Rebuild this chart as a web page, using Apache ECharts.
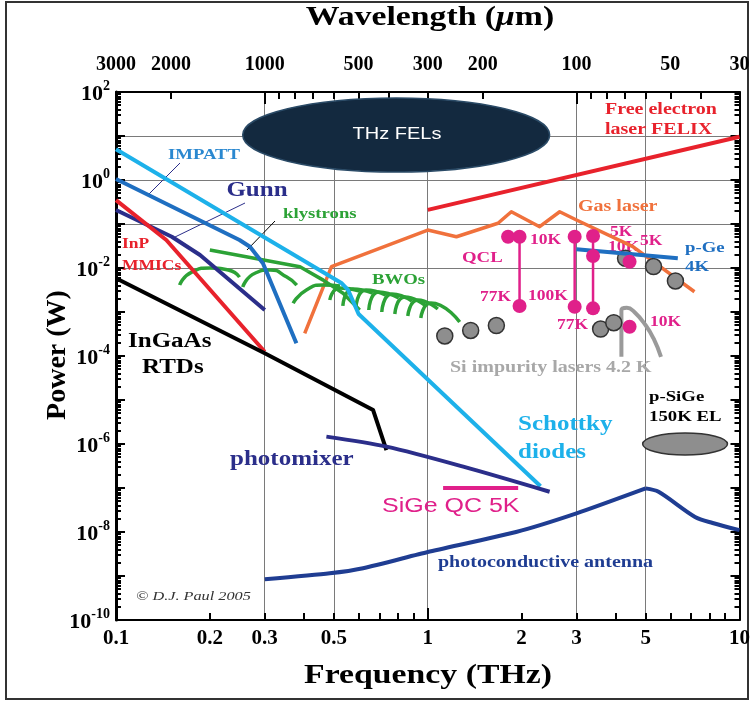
<!DOCTYPE html>
<html>
<head>
<meta charset="utf-8">
<script src="https://cdn.jsdelivr.net/npm/echarts@6/dist/echarts.min.js"></script>
<style>
  html, body { margin: 0; padding: 0; background: #fff; }
  #chart { width: 753px; height: 702px; }
</style>
</head>
<body>
<div id="chart"></div>
<script>
const SERIF = '"Liberation Serif","DejaVu Serif",serif';
const SANS = '"Liberation Sans","DejaVu Sans",sans-serif';

// ---- axis ticks and labels ----
const freqLabels = [0.1, 0.2, 0.3, 0.5, 1, 2, 3, 5, 10];                 // THz
const freqTicks = [0.2, 0.3, 0.4, 0.5, 0.6, 0.7, 0.8, 0.9, 2, 3, 4, 5, 6, 7, 8, 9];
const freqMajorTicks = [1];
const wavelengthLabels = [3000, 2000, 1000, 500, 300, 200, 100, 50, 30];  // µm
const wavelengthTicks = [2000, 900, 800, 700, 600, 500, 400, 300, 200, 90, 80, 70, 60, 50, 40, 30];
const wavelengthMajorTicks = [1000, 100];
const powerExponents = [-10, -9, -8, -7, -6, -5, -4, -3, -2, -1, 0, 1, 2];  // W, as powers of ten
const gridFreqs = [0.3, 0.5, 1, 3, 5];

// ---- sources, [frequency THz, power W] ----
const schottky = [[0.1, 5], [0.53, 4.5e-3], [0.555, 3.2e-3], [0.6, 9e-4], [2.3, 1.1e-7]];
const impatt = [[0.1, 1.05], [0.249, 0.0433], [0.269, 0.0305], [0.296, 0.0128], [0.379, 1.94e-4]];
const gunn = [[0.1, 0.208], [0.151, 0.0514], [0.186, 0.0197], [0.30, 1.11e-3]];
const inpMmic = [[0.1, 0.35], [0.145, 0.0433], [0.3, 1.25e-4]];
const rtd = [[0.1, 5.83e-3], [0.3, 1.15e-4], [0.668, 5.9e-6], [0.737, 7.3e-7]];
const photomixer = [[0.473, 1.47e-6], [0.737, 8.7e-7], [1.30, 3.05e-7], [2.46, 8.2e-8]];
const sigeQC = [[1.12, 1e-7], [1.95, 1e-7]];
const antenna = [[0.3, 8.4e-10], [0.485, 1.15e-9], [0.62, 1.5e-9], [1.0, 3.5e-9], [1.92, 1.0e-8],
                 [3.0, 2.65e-8], [5.0, 9.8e-8], [5.5, 8.2e-8], [7.2, 2.2e-8], [8.2, 1.6e-8], [10, 1.1e-8]];
const antennaPeakIndex = 6;
const felix = [[1, 0.21], [10, 9.6]];
const gasLaser = [[0.403, 3.28e-4], [0.491, 0.0107], [1.0, 0.073], [1.236, 0.0514], [1.68, 0.104],
                  [1.854, 0.19], [2.285, 0.0869], [2.65, 0.19], [3.0, 0.123], [4.55, 0.0305], [7.17, 2.89e-3]];
const pGe = [[3.0, 0.0266], [6.34, 0.0166]];
const siImpurityArc = [[4.18, 9.6e-5], [4.18, 1.1e-3], [4.35, 1.25e-3], [4.6, 1.0e-3], [5.0, 5.0e-4], [5.3, 2.5e-4], [5.6, 9.6e-5]];

const klystronLine = [[0.2, 0.0257], [0.389, 0.0107], [0.462, 5.3e-3], [0.535, 2.66e-3], [0.605, 1.11e-3]];
const klystronArcs = [
  [[0.160, 4.1e-3], [0.175, 8.1e-3], [0.2, 0.01], [0.229, 9.0e-3], [0.249, 6.2e-3]],
  [[0.255, 3.7e-3], [0.279, 7.6e-3], [0.312, 9.0e-3], [0.352, 6.3e-3], [0.38, 4.1e-3]],
  [[0.37, 1.58e-3], [0.408, 3.16e-3], [0.462, 4.1e-3], [0.523, 3.9e-3]]
];
const bwoArcs = [
  [[0.485, 1.87e-3], [0.522, 3.51e-3], [0.605, 3.0e-3]],
  [[0.534, 1.37e-3], [0.575, 3.33e-3], [0.666, 2.70e-3]],
  [[0.588, 1.23e-3], [0.633, 3.16e-3], [0.734, 2.43e-3]],
  [[0.647, 1.11e-3], [0.696, 2.85e-3], [0.807, 2.08e-3]],
  [[0.712, 1.0e-3], [0.767, 2.56e-3], [0.889, 1.78e-3]],
  [[0.784, 9.0e-4], [0.844, 2.19e-3], [0.978, 1.44e-3]],
  [[0.863, 8.1e-4], [0.929, 1.87e-3], [1.077, 1.17e-3]],
  [[0.950, 7.3e-4], [1.022, 1.60e-3], [1.266, 5.9e-4]]
];

// quantum cascade lasers: temperature ranges and single points
const qclRanges = [
  [[1.97, 0.0514], [1.97, 1.37e-3]],
  [[2.96, 0.0514], [2.96, 1.32e-3]],
  [[3.39, 0.0533], [3.39, 1.21e-3]]
];
const qclDots = [[1.81, 0.0514], [1.97, 0.0514], [1.97, 1.37e-3], [2.96, 0.0514], [2.96, 1.32e-3],
                 [3.39, 0.0533], [3.39, 0.0187], [3.39, 1.21e-3], [4.44, 0.0139], [4.44, 4.63e-4]];
const grayDots = [[1.134, 2.85e-4], [1.373, 3.8e-4], [1.66, 4.93e-4], [3.585, 4.1e-4], [3.95, 5.7e-4],
                  [4.31, 0.0166], [5.3, 0.0108], [6.23, 5.07e-3]];

// regions: [fLow, fHigh, pLow, pHigh]
const felRegion = [0.255, 2.46, 1.52, 73];
const psigeRegion = [4.89, 9.15, 5.6e-7, 1.78e-6];

// ---- helpers ----
const pow10 = e => +('1e' + e);
const majorPowers = powerExponents.map(pow10);
const labelPowers = powerExponents.filter(e => e % 2 === 0).map(pow10);
const innerPowers = powerExponents.slice(1, -1).map(pow10);
const minorPowerTicks = [];
powerExponents.slice(0, -1).forEach(e => {
  for (let k = 2; k <= 9; k++) minorPowerTicks.push(+(k + 'e' + e));
});

function line(data, color, width, extra) {
  return Object.assign({
    type: 'line', data: data, symbol: 'none', showSymbol: false, silent: true,
    lineStyle: { color: color, width: width, cap: 'butt', join: 'round' },
    itemStyle: { color: color }, z: 3
  }, extra || {});
}

function ellipseSeries(region, fill, stroke) {
  return {
    type: 'custom', silent: true, z: 8,
    data: [region],
    encode: { x: [0, 1], y: [2, 3] },
    renderItem: function (params, api) {
      const a = api.coord([api.value(0), api.value(2)]);
      const b = api.coord([api.value(1), api.value(3)]);
      return {
        type: 'ellipse',
        shape: { cx: (a[0] + b[0]) / 2, cy: (a[1] + b[1]) / 2, rx: Math.abs(b[0] - a[0]) / 2, ry: Math.abs(b[1] - a[1]) / 2 },
        style: { fill: fill, stroke: stroke, lineWidth: 1.5 }
      };
    }
  };
}

// text printed slightly widened, as in the original figure
const WIDEN = 1.25;
function txt(x, y, text, size, color, opts) {
  opts = opts || {};
  const align = opts.align || 'left';
  return {
    type: 'text', x: x, y: y, z: opts.z || 1, silent: true, rotation: opts.rotation || 0,
    scaleX: opts.rotation ? 1 : WIDEN,
    style: {
      text: text, fill: color,
      font: (opts.italic ? 'italic ' : '') + (opts.weight || 'bold') + ' ' + size + 'px ' + (opts.family || SERIF),
      textAlign: align, align: align, textVerticalAlign: 'middle', verticalAlign: 'middle'
    }
  };
}
function seg(x1, y1, x2, y2, color) {
  return { type: 'line', z: 1, silent: true, shape: { x1: x1, y1: y1, x2: x2, y2: y2 }, style: { stroke: color, lineWidth: 1 } };
}

const C = {
  sky: '#1db1ea', blue: '#1f6fc1', navy: '#2b2e8a', red: '#e8222c', green: '#2ca236',
  orange: '#f0713c', pink: '#e0208a', gray: '#8e8e8e', dark: '#1f3d92'
};

const series = [
  // plot grid
  {
    type: 'line', data: [], silent: true, z: 0,
    markLine: {
      silent: true, symbol: 'none', animation: false, label: { show: false }, z: 0,
      lineStyle: { color: '#7a7a7a', width: 1, type: 'solid' },
      data: gridFreqs.map(f => ({ xAxis: f })).concat(innerPowers.map(p => ({ yAxis: p })))
    }
  },
  ellipseSeries(felRegion, '#13293f', '#2a4a66'),
  ellipseSeries(psigeRegion, '#8e8e8e', '#333'),
  line(felix, C.red, 4),
  line(gasLaser, C.orange, 3.5),
  line(klystronLine, C.green, 3.5),
  ...klystronArcs.map(a => line(a, C.green, 3.5, { smooth: 0.6 })),
  ...bwoArcs.map(a => line(a, C.green, 3.5, { smooth: 0.6 })),
  line(impatt, C.blue, 4),
  line(gunn, C.navy, 4),
  line(inpMmic, C.red, 4),
  line(rtd, '#000', 4),
  line(schottky, C.sky, 4),
  line(photomixer, C.navy, 4, { smooth: 0.3 }),
  line(sigeQC, C.pink, 4),
  // photoconductive antenna: rising and falling branches meet at a sharp peak
  line(antenna.slice(0, antennaPeakIndex + 1), C.dark, 4, { smooth: 0.2 }),
  line(antenna.slice(antennaPeakIndex), C.dark, 4, { smooth: 0.3 }),
  line(siImpurityArc, '#9a9a9a', 4, { smooth: 0.5 }),
  {
    type: 'scatter', data: grayDots, symbol: 'circle', symbolSize: 16, silent: true, z: 6,
    itemStyle: { color: C.gray, borderColor: '#333', borderWidth: 1.5, opacity: 1 }
  },
  line(pGe, C.blue, 4, { z: 7 }),
  ...qclRanges.map(r => line(r, C.pink, 2.5, { z: 7 })),
  {
    type: 'scatter', data: qclDots, symbol: 'circle', symbolSize: 14, silent: true, z: 8,
    itemStyle: { color: C.pink, opacity: 1 }
  }
];

const graphics = [
  { type: 'rect', z: -1, silent: true, shape: { x: 6, y: 2, width: 742, height: 697 }, style: { fill: 'none', stroke: '#333', lineWidth: 2 } },
  // axis titles
  {
    type: 'text', x: 430, y: 18, silent: true, z: 1, scaleX: WIDEN,
    style: {
      text: '{a|Wavelength (}{m|μ}{a|m)}', align: 'center', verticalAlign: 'middle',
      textAlign: 'center', textVerticalAlign: 'middle',
      rich: {
        a: { font: 'bold 27px ' + SERIF, fill: '#000' },
        m: { font: 'italic bold 27px ' + SERIF, fill: '#000' }
      }
    }
  },
  txt(428, 676, 'Frequency (THz)', 27, '#000', { align: 'center' }),
  txt(58, 355, 'Power (W)', 28, '#000', { align: 'center', rotation: Math.PI / 2 }),
  // FEL region caption
  txt(397, 135, 'THz FELs', 16, '#fff', { align: 'center', weight: 'normal', family: SANS, z: 20 }),
  // source labels
  txt(204, 155, 'IMPATT', 15, '#2a88d0', { align: 'center' }),
  seg(180, 163, 148, 195, C.navy),
  txt(257, 191, 'Gunn', 20, C.navy, { align: 'center' }),
  seg(245, 203, 175, 237, C.navy),
  txt(283, 214, 'klystrons', 15, C.green),
  seg(275, 221, 247, 250, '#000'),
  txt(122, 244, 'InP', 14, C.red),
  txt(122, 266, 'MMICs', 14, C.red),
  txt(128, 342, 'InGaAs', 20, '#000'),
  txt(142, 368, 'RTDs', 20, '#000'),
  txt(230, 460, 'photomixer', 20, C.navy),
  txt(518, 425, 'Schottky', 20, C.sky),
  txt(518, 453, 'diodes', 20, C.sky),
  txt(382, 506, 'SiGe QC 5K', 20, C.pink, { weight: 'normal', family: SANS }),
  txt(438, 563, 'photoconductive antenna', 16, C.dark),
  txt(136, 597, '© D.J. Paul 2005', 13, '#333', { italic: true, weight: 'normal' }),
  txt(605, 110, 'Free electron', 16, C.red),
  txt(605, 130, 'laser FELIX', 16, C.red),
  txt(578, 207, 'Gas laser', 16, C.orange),
  txt(462, 258, 'QCL', 15, C.pink),
  txt(530, 240, '10K', 14, C.pink),
  txt(480, 297, '77K', 14, C.pink),
  txt(528, 296, '100K', 14, C.pink),
  txt(557, 325, '77K', 14, C.pink),
  txt(610, 232, '5K', 14, C.pink),
  txt(608, 247, '10K', 14, C.pink),
  txt(640, 241, '5K', 14, C.pink),
  txt(650, 322, '10K', 14, C.pink),
  txt(685, 248, 'p-Ge', 15, C.blue),
  txt(685, 267, '4K', 15, C.blue),
  txt(372, 280, 'BWOs', 15, C.green),
  txt(450, 368, 'Si impurity lasers 4.2 K', 16, '#a8a8a8'),
  txt(649, 397, 'p-SiGe', 15, '#000'),
  txt(649, 417, '150K EL', 15, '#000')
];

const axisLineStyle = { show: true, onZero: false, lineStyle: { color: '#000', width: 2 } };
const noLine = { show: false };
const yBase = { type: 'log', logBase: 10, min: 1e-10, max: 100, splitLine: { show: false } };
const tickStyle = { color: '#000', width: 2 };

function tickAxis(base, position, values, length, withLine) {
  return Object.assign({}, base, {
    position: position,
    axisLine: withLine ? axisLineStyle : noLine,
    axisTick: { show: true, inside: true, length: length, customValues: values, lineStyle: tickStyle },
    axisLabel: { show: false }
  });
}

const xBase = { type: 'log', logBase: 10, min: 0.1, max: 10, splitLine: { show: false } };

const option = {
  animation: false,
  backgroundColor: '#fff',
  grid: { left: 116, right: 13, top: 92, bottom: 82, containLabel: false },
  xAxis: [
    Object.assign({}, xBase, {
      position: 'bottom',
      axisLine: axisLineStyle,
      axisTick: { show: true, inside: true, length: 7, customValues: freqTicks, lineStyle: tickStyle },
      axisLabel: {
        show: true, customValues: freqLabels, margin: 8,
        formatter: v => String(v),
        color: '#000', fontFamily: SERIF, fontWeight: 'bold', fontSize: 21
      }
    }),
    Object.assign({}, xBase, {
      position: 'top',
      axisLine: axisLineStyle,
      axisTick: { show: true, inside: true, length: 7, customValues: wavelengthTicks.map(w => 300 / w), lineStyle: tickStyle },
      axisLabel: {
        show: true, customValues: wavelengthLabels.map(w => 300 / w), margin: 17,
        formatter: v => String(Math.round(300 / v)),
        color: '#000', fontFamily: SERIF, fontWeight: 'bold', fontSize: 20
      }
    }),
    tickAxis(xBase, 'bottom', freqMajorTicks, 12, false),
    tickAxis(xBase, 'top', wavelengthMajorTicks.map(w => 300 / w), 12, false)
  ],
  yAxis: [
    Object.assign({}, yBase, {
      position: 'left',
      axisLine: { show: true, onZero: false, lineStyle: { color: '#000', width: 3 } },
      axisTick: { show: true, inside: true, length: 9, customValues: majorPowers, lineStyle: tickStyle },
      axisLabel: {
        show: true, margin: 6, customValues: labelPowers,
        formatter: v => '{b|10}{s|' + Math.round(Math.log10(v)) + '}',
        rich: {
          b: { fontFamily: SERIF, fontWeight: 'bold', fontSize: 22, color: '#000', verticalAlign: 'bottom', lineHeight: 26 },
          s: { fontFamily: SERIF, fontWeight: 'bold', fontSize: 14, color: '#000', verticalAlign: 'top', lineHeight: 16 }
        }
      }
    }),
    tickAxis(yBase, 'left', minorPowerTicks, 5, false),
    tickAxis(yBase, 'right', majorPowers, 9, true),
    tickAxis(yBase, 'right', minorPowerTicks, 5, false)
  ],
  series: series,
  graphic: graphics
};

const chart = echarts.init(document.getElementById('chart'), null, { renderer: 'canvas' });
chart.setOption(option);
</script>
</body>
</html>
